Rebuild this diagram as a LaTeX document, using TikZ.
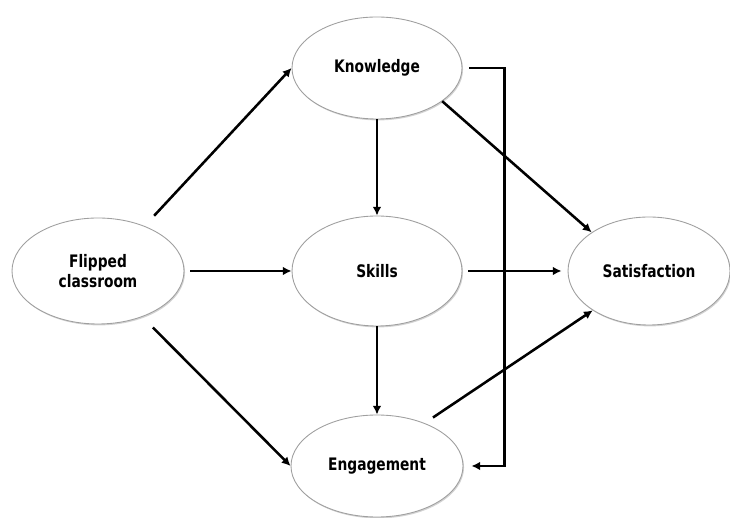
\documentclass[tikz,border=0pt]{standalone}
\usepackage{fontspec}
\setmainfont[FakeStretch=0.8]{DejaVu Sans}
\usetikzlibrary{shapes.geometric,arrows.meta,shadows}

\begin{document}
\begin{tikzpicture}[scale=0.2]
\tikzstyle{every node}+=[inner sep=0pt]
\tikzstyle{construct}=[ellipse, draw=gray!75, line width=0.5pt, fill=white, align=center,
  drop shadow={shadow xshift=0.6pt, shadow yshift=-0.8pt, opacity=0.35},
  font=\bfseries\fontsize{9.8}{11.5}\selectfont]
\tikzstyle{link}=[black, line width=1.45pt, -{Latex[length=5pt,width=5pt]}]
\useasboundingbox (0,0) rectangle (73,-51.8);
\node [construct, minimum width=3.44cm, minimum height=2.12cm] (flip) at (9.8,-27.1) {Flipped\\classroom};
\node [construct, minimum width=3.4cm, minimum height=2.04cm] (know) at (37.7,-6.8) {Knowledge};
\node [construct, minimum width=3.4cm, minimum height=2.2cm] (skill) at (37.7,-27.1) {Skills};
\node [construct, minimum width=3.44cm, minimum height=2.04cm] (engage) at (37.7,-46.6) {Engagement};
\node [construct, minimum width=3.24cm, minimum height=2.16cm] (satis) at (64.9,-27.1) {Satisfaction};
\draw [link, shorten <=0.28cm] (flip.44) -- (know.west);
\draw [link, shorten <=0.12cm] (flip.east) -- (skill.west);
\draw [link, shorten <=0.3cm] (flip.-46) -- (engage.west);
\draw [link] (know.south) -- (skill.north);
\draw [link] (skill.south) -- (engage.north);
\draw [link] (know.-27) -- (satis.146);
\draw [link, shorten <=0.12cm, shorten >=0.12cm] (skill.east) -- (satis.west);
\draw [link, shorten <=0.2cm] (engage.42) -- (satis.215);
\draw [link, shorten <=0.14cm, shorten >=0.16cm] (know.east) -- ++(4.2,0) |- (engage.east);
\end{tikzpicture}
\end{document}
